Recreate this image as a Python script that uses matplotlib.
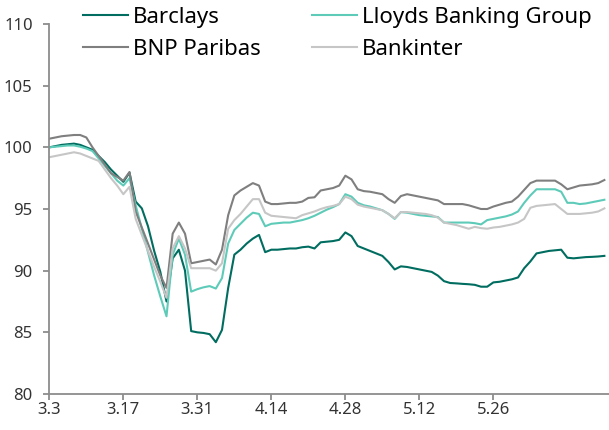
import numpy as np
import matplotlib
matplotlib.use("Agg")
from matplotlib import pyplot as plt

# index of trading days, labels every 12 points
tick_labels = ["3.3", "3.17", "3.31", "4.14", "4.28", "5.12", "5.26"]

barclays = [
    100.0, 100.1, 100.2, 100.25, 100.3, 100.2, 100.0, 99.8, 99.3, 98.8,
    98.2, 97.7, 97.2, 97.95, 95.6, 95.05, 93.6, 91.6, 89.9, 87.5,
    91.0, 91.7, 90.0, 85.1, 85.0, 84.95, 84.85, 84.2, 85.2, 88.6,
    91.3, 91.7, 92.2, 92.6, 92.9, 91.5, 91.7, 91.7, 91.75, 91.8,
    91.8, 91.9, 91.95, 91.8, 92.3, 92.35, 92.4, 92.5, 93.1, 92.8,
    92.0, 91.8, 91.6, 91.4, 91.2, 90.7, 90.1, 90.35, 90.3, 90.2,
    90.1, 90.0, 89.9, 89.6, 89.15, 89.0, 88.97, 88.93, 88.9, 88.85,
    88.7, 88.7, 89.05, 89.1, 89.2, 89.3, 89.45, 90.2, 90.75, 91.4,
    91.5, 91.6, 91.65, 91.7, 91.05, 91.0, 91.05, 91.1, 91.12, 91.15,
    91.2,
]
lloyds = [
    100.0, 100.05, 100.1, 100.15, 100.15, 100.05, 99.9, 99.7, 99.1, 98.5,
    97.9, 97.3, 96.9, 97.5, 95.3, 93.4, 91.5, 89.6, 87.9, 86.3,
    91.3, 92.6, 91.3, 88.3, 88.5, 88.65, 88.75, 88.55, 89.4, 92.2,
    93.3, 93.8, 94.3, 94.7, 94.6, 93.6, 93.8, 93.85, 93.9, 93.9,
    94.0, 94.1, 94.25, 94.45, 94.7, 94.95, 95.15, 95.4, 96.2, 96.0,
    95.5, 95.3, 95.2, 95.05, 94.9, 94.6, 94.2, 94.75, 94.7, 94.6,
    94.5, 94.45, 94.4, 94.35, 93.9, 93.9, 93.9, 93.9, 93.9, 93.85,
    93.75, 94.1, 94.2, 94.3, 94.4, 94.55, 94.8, 95.5, 96.1, 96.6,
    96.6, 96.6, 96.6, 96.4, 95.5, 95.5, 95.4, 95.45, 95.55, 95.65,
    95.75,
]
bnp = [
    100.7, 100.8, 100.9, 100.95, 101.0, 101.0, 100.8, 100.0, 99.3, 98.6,
    97.9, 97.6, 97.3, 98.0, 94.8, 93.5, 92.2, 90.9, 89.6, 88.6,
    93.0, 93.9, 93.0, 90.6, 90.7, 90.8, 90.9, 90.5, 91.7, 94.5,
    96.1, 96.5, 96.8, 97.1, 96.9, 95.6, 95.4, 95.4, 95.45, 95.5,
    95.5, 95.6, 95.9, 95.95, 96.5, 96.6, 96.7, 96.9, 97.7, 97.4,
    96.6, 96.45, 96.4, 96.3, 96.2, 95.8, 95.5, 96.05, 96.2, 96.1,
    96.0, 95.9, 95.8, 95.7, 95.4, 95.4, 95.4, 95.4, 95.3, 95.15,
    95.0, 95.0, 95.2, 95.35, 95.5, 95.6, 96.0, 96.55, 97.1, 97.3,
    97.3, 97.3, 97.3, 97.0, 96.6, 96.75, 96.9, 96.95, 97.0, 97.1,
    97.35,
]
bankinter = [
    99.2, 99.3, 99.4, 99.5, 99.6, 99.5, 99.3, 99.1, 98.9, 98.2,
    97.5, 96.9, 96.2, 96.8, 94.2, 92.9, 91.6, 90.3, 89.1, 87.8,
    91.8, 92.8, 91.8, 90.2, 90.2, 90.2, 90.2, 90.0, 90.6, 93.4,
    94.1, 94.6, 95.2, 95.8, 95.8, 94.7, 94.45, 94.4, 94.35, 94.3,
    94.25, 94.5, 94.65, 94.8, 95.0, 95.15, 95.25, 95.4, 96.0, 95.8,
    95.35, 95.2, 95.1, 95.0, 94.9, 94.6, 94.25, 94.75, 94.75, 94.7,
    94.65, 94.6, 94.5, 94.3, 93.9, 93.8, 93.7, 93.55, 93.4, 93.55,
    93.45, 93.4, 93.5, 93.55, 93.65, 93.75, 93.9, 94.2, 95.1, 95.25,
    95.3, 95.35, 95.4, 95.0, 94.6, 94.6, 94.6, 94.65, 94.7, 94.8,
    95.05,
]

plt.rcParams["font.family"] = ["Noto Sans", "DejaVu Sans"]

x = np.arange(len(barclays))

fig = plt.figure(figsize=(6.09, 4.30), dpi=100)
ax = fig.add_axes([0.081, 0.0837, 0.919, 0.8605])

l1, = ax.plot(x, barclays, color="#006d60", lw=1.5, label="Barclays")
l2, = ax.plot(x, lloyds, color="#5ecbb9", lw=1.5, label="Lloyds Banking Group")
l3, = ax.plot(x, bnp, color="#7f7f7f", lw=1.5, label="BNP Paribas")
l4, = ax.plot(x, bankinter, color="#c6c6c6", lw=1.5, label="Bankinter")

ax.set_xlim(0, 90.75)
ax.set_ylim(80, 110)
ax.set_yticks(np.arange(80, 111, 5))
ax.set_xticks(np.arange(0, 12 * len(tick_labels), 12))
ax.set_xticklabels(tick_labels)

for side in ["top", "right"]:
    ax.spines[side].set_visible(False)
for side in ["left", "bottom"]:
    ax.spines[side].set_color("#8c8c8c")
    ax.spines[side].set_linewidth(1.3)
ax.tick_params(axis="both", colors="#8c8c8c", labelcolor="#333333",
               labelsize=12, length=4, width=1.3, direction="out")
ax.tick_params(axis="x", pad=2)
ax.tick_params(axis="y", pad=8)

fig.legend(handles=[l1, l3, l2, l4], ncol=2, loc="upper left",
           bbox_to_anchor=(0.136, 0.984), frameon=False, fontsize=16,
           handlelength=2.03, handletextpad=0.22, columnspacing=2.3,
           labelspacing=0.48, borderpad=0.0, borderaxespad=0.0)

fig.savefig("out.png", dpi=100)
